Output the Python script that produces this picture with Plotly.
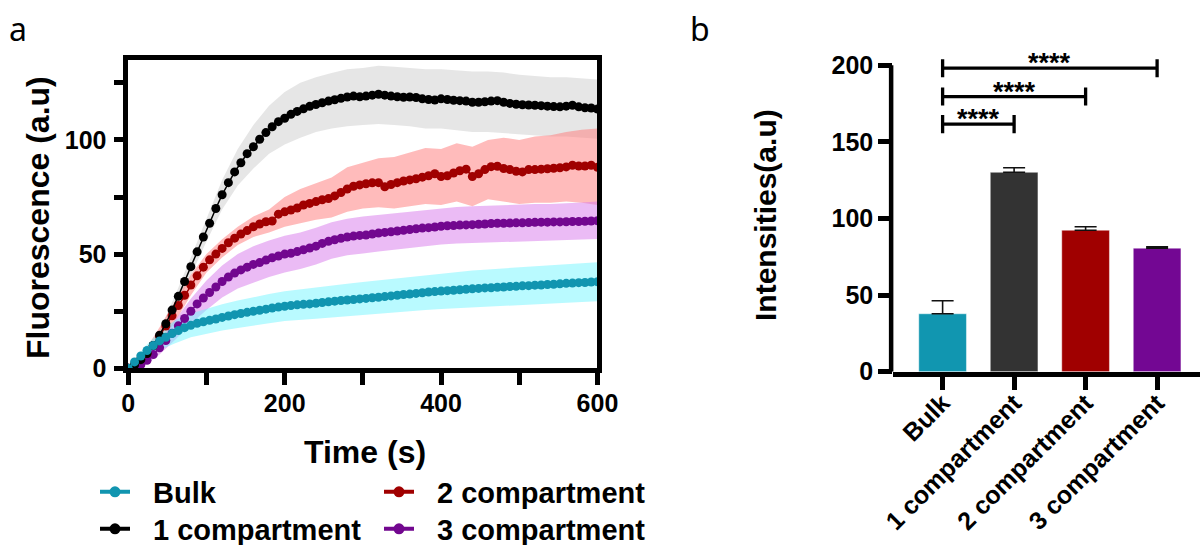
import plotly.graph_objects as go

# ---------------- Panel a data: fluorescence time course ----------------
time_s = list(range(0, 601, 8))

bulk_mean = [0, 2.8, 5.4, 7.8, 10, 12, 13.6, 15.2, 16.5, 17.8,
             18.8, 19.7, 20.4, 21, 21.6, 22.3, 22.9, 23.5, 24, 24.5,
             25, 25.4, 25.9, 26.4, 26.8, 27.2, 27.5, 27.8, 28, 28.2,
             28.5, 28.8, 29.1, 29.4, 29.7, 29.9, 30.1, 30.4, 30.6, 30.9,
             31.1, 31.4, 31.7, 32, 32.3, 32.5, 32.8, 33.1, 33.4, 33.6,
             33.8, 34, 34.2, 34.4, 34.6, 34.8, 35, 35.2, 35.3, 35.5,
             35.6, 35.8, 35.9, 36.1, 36.2, 36.4, 36.5, 36.7, 36.8, 37,
             37.2, 37.3, 37.5, 37.6, 37.8, 37.9]

one_comp_mean = [0, 1.5, 3.8, 6.5, 10, 14.5, 19.5, 25.5, 31.5, 38,
                 44.5, 51, 57.5, 63.5, 70, 76, 81.3, 86, 90, 94,
                 97, 100.3, 103.2, 105.8, 108, 109.5, 111.2, 112.5, 113.6, 114.7,
                 115.5, 116.3, 117, 117.6, 118.2, 118.8, 119.2, 118.9, 119.2, 119.6,
                 120, 119.6, 119.2, 118.9, 118.7, 118.8, 118.6, 118, 117.7, 117.5,
                 118, 117.7, 117.4, 117.2, 117, 116.5, 116.5, 116.7, 117, 117.2,
                 116.5, 116, 115.6, 115.4, 115.3, 115.2, 115, 114.8, 114.6, 114.5,
                 114.8, 115.2, 114.5, 114.1, 114, 113.5]

two_comp_mean = [0, 1.8, 4, 6.5, 10, 14, 18.5, 23, 27.5, 32,
                 36.5, 40.5, 44.3, 47.5, 50, 52.5, 55, 57, 58.8, 60.3,
                 62, 63.2, 64.2, 64.5, 67.5, 68.5, 69.3, 70.2, 71.5, 72.2,
                 73, 73.8, 74.3, 75.5, 77, 78.5, 79.7, 80.3, 80.8, 81.2,
                 81.3, 79.5, 80.5, 81.3, 82, 82.5, 83, 83.7, 84.3, 85.2,
                 84, 84.3, 85.5, 86.5, 87.2, 84, 85.2, 87, 88.3, 88.5,
                 87.5, 87, 86.3, 86, 87, 87, 87.2, 87.4, 87.6, 87.8,
                 88.2, 88.9, 88.6, 88.6, 88.9, 88]

three_comp_mean = [0, 0.3, 1.5, 3.5, 6, 9, 12.2, 15.4, 18.6, 21.8,
                   25, 28.2, 30.8, 33.2, 35.6, 38, 40, 41.7, 43.1, 44.3,
                   45.5, 46.3, 47.4, 48.4, 49.2, 50, 50.4, 51.1, 51.9, 52.7,
                   53.5, 54.7, 55.6, 56.3, 56.9, 57.5, 57.9, 58.2, 58.4, 58.8,
                   59.2, 59.5, 59.8, 60.1, 60.4, 60.8, 61.1, 61.4, 61.6, 61.9,
                   62.2, 62.4, 62.5, 62.7, 62.8, 62.9, 63.1, 63.2, 63.4, 63.5,
                   63.5, 63.6, 63.7, 63.7, 63.8, 63.9, 64, 64, 64.1, 64.1,
                   64.2, 64.3, 64.3, 64.4, 64.5, 64.6]

# SD envelopes (upper / lower edges of shaded areas)
band_time = list(range(0, 601, 20))

bulk_upper = [0, 9, 16, 21, 24, 26.2, 28.1, 29.7, 31.2, 32.5, 33.7, 34.6, 35.3, 36.2, 37, 37.8,
              38.5, 39.3, 40.1, 40.9, 41.6, 42.2, 42.8, 43.3, 43.8, 44.3, 44.7, 45.2, 45.7, 46, 46.4]
bulk_lower = [0, 4.1, 8, 11, 13.6, 15.2, 16.5, 17.7, 18.8, 19.7, 20.7, 21.2, 21.7, 22.2, 22.8, 23.2,
              23.7, 24.3, 24.9, 25.5, 26, 26.4, 26.8, 27.1, 27.4, 27.7, 28.1, 28.4, 28.7, 29, 29.4]

one_comp_upper = [0, 6, 16.5, 32, 48.5, 65.5, 82.5, 96, 106.5, 115, 121, 125, 127.5, 129.3, 131, 131.5,
                  132.5, 132, 131.5, 131, 131, 130.5, 130, 130, 129.5, 128.5, 128, 127.5, 127.5, 127, 126.5]
one_comp_lower = [0, 4, 12.5, 26, 40.5, 55.5, 69.5, 80, 87.5, 94, 98, 101, 103.5, 105, 106, 106.5,
                  107, 106.5, 106, 105, 105, 104.3, 103.5, 103.5, 103.2, 102.5, 102, 101.5, 101.5, 101, 100.5]

two_comp_upper = [0, 7, 18, 29.5, 41, 50, 56.5, 62, 66.5, 69.5, 75, 78.5, 81, 83.5, 88, 90,
                  92, 92.5, 94.5, 96.5, 96, 98.5, 97, 100, 101, 100, 101.5, 102, 103.5, 104.5, 105]
two_comp_lower = [0, 3, 10, 20.5, 32, 42, 48.5, 54, 57.5, 59.5, 62, 63.5, 65, 66, 68.5, 70,
                  70.5, 70, 71, 72, 71.5, 73, 71, 74, 73, 72, 72.5, 72.5, 73, 72.5, 71.5]

three_comp_upper = [0, 4, 12, 21.5, 30.5, 38.5, 45, 50, 53.5, 56, 58, 59.5, 61.5, 64, 65.5, 66.5,
                    67.2, 68, 68.8, 69.5, 70.2, 70.6, 71, 71.3, 71.5, 71.7, 71.9, 72, 72.2, 72.6, 73]
three_comp_lower = [0, 1, 6, 12.5, 19.5, 25.5, 31, 35, 37.5, 40, 42, 43.5, 45.5, 48, 49.5, 50.3,
                    51.2, 52, 52.8, 53.5, 54.2, 54.6, 54.9, 55.3, 55.5, 55.7, 55.9, 56, 56.2, 56.4, 56.6]

x_tick_vals_a = [0, 100, 200, 300, 400, 500, 600]
x_tick_text_a = ["0", "", "200", "", "400", "", "600"]
y_tick_vals_a = [0, 25, 50, 75, 100, 125]
y_tick_text_a = ["0", "", "50", "", "100", ""]

# ---------------- Panel b data: intensities ----------------
bar_categories = ["Bulk", "1 compartment", "2 compartment", "3 compartment"]
bar_means = [37.8, 130.1, 92.3, 80.6]
bar_errors = [8.5, 3.0, 2.3, 0.8]
y_tick_vals_b = [0, 50, 100, 150, 200]

bracket_pairs = [("Bulk", "1 compartment"), ("Bulk", "2 compartment"), ("Bulk", "3 compartment")]
bracket_levels = [161.5, 179.5, 198]
bracket_labels = ["****", "****", "****"]

# ---------------- styling ----------------
FONT = "Liberation Sans, Arial, sans-serif"
series = [
    # name, mean, upper, lower, line colour, band colour
    ("3 compartment", three_comp_mean, three_comp_upper, three_comp_lower, "#72078f", "rgba(215,120,235,0.5)"),
    ("2 compartment", two_comp_mean, two_comp_upper, two_comp_lower, "#a00000", "rgba(255,120,120,0.5)"),
    ("1 compartment", one_comp_mean, one_comp_upper, one_comp_lower, "#000000", "rgba(205,205,205,0.5)"),
    ("Bulk", bulk_mean, bulk_upper, bulk_lower, "#1195b0", "rgba(115,245,255,0.5)"),
]
bar_colors = ["#1196b0", "#333333", "#a00000", "#730793"]

# legend slots: name -> (legend id, left x px, centre y px)
legend_slots = {
    "Bulk": ("legend", 77, 492),
    "2 compartment": ("legend2", 361, 492),
    "1 compartment": ("legend3", 77, 529),
    "3 compartment": ("legend4", 361, 529),
}

fig = go.Figure()

# shaded SD bands (grey first, cyan last)
for name, mean, up, lo, lc, bc in [series[2], series[1], series[0], series[3]]:
    fig.add_trace(go.Scatter(
        x=band_time + band_time[::-1], y=up + lo[::-1],
        fill="toself", fillcolor=bc, line=dict(width=0), mode="lines",
        hoverinfo="skip", showlegend=False, xaxis="x", yaxis="y"))

# mean curves
for name, mean, up, lo, lc, bc in series:
    fig.add_trace(go.Scatter(
        x=time_s, y=mean, mode="lines+markers", name=name,
        line=dict(color=lc, width=1.5), marker=dict(color=lc, size=9),
        showlegend=False, cliponaxis=False, xaxis="x", yaxis="y"))

# legend entries (2 x 2 grid)
legend_layouts = {}
for name in ["Bulk", "1 compartment", "2 compartment", "3 compartment"]:
    s = [q for q in series if q[0] == name][0]
    lid, lx, ly = legend_slots[name]
    fig.add_trace(go.Scatter(
        x=[None], y=[None], mode="lines+markers", name=name, legend=lid,
        line=dict(color=s[4], width=4, dash="0px,18px,30px,300px"),
        marker=dict(color=s[4], size=11), xaxis="x", yaxis="y"))
    legend_layouts[lid] = dict(
        x=lx / 1200, xanchor="left", y=1 - ly / 545, yanchor="middle",
        font=dict(family=FONT, size=29, color="black", weight="bold"),
        itemwidth=66, bgcolor="rgba(0,0,0,0)", tracegroupgap=0)

# bars
bar_pos = list(range(len(bar_categories)))
fig.add_trace(go.Bar(
    x=bar_pos, y=bar_means, width=0.667,
    marker=dict(color=bar_colors, line=dict(color="rgba(255,255,255,0.45)", width=1)),
    error_y=dict(type="data", array=bar_errors, arrayminus=[0] * len(bar_errors),
                 symmetric=False, color="#111111", thickness=1.6, width=11),
    showlegend=False, xaxis="x2", yaxis="y2"))

# significance brackets
CAP = 5.9
for (a, b), lvl, lab in zip(bracket_pairs, bracket_levels, bracket_labels):
    pa, pb = bar_categories.index(a), bar_categories.index(b)
    fig.add_trace(go.Scatter(
        x=[pa, pb, None, pa, pa, None, pb, pb],
        y=[lvl, lvl, None, lvl - CAP, lvl + CAP, None, lvl - CAP, lvl + CAP],
        mode="lines", line=dict(color="black", width=3.3),
        hoverinfo="skip", showlegend=False, xaxis="x2", yaxis="y2"))
    fig.add_annotation(x=(pa + pb) / 2, y=lvl, xref="x2", yref="y2", text=lab,
                       showarrow=False, xanchor="center", yanchor="bottom", yshift=-12,
                       font=dict(family=FONT, size=27, color="black", weight="bold"))

tickfont = dict(family=FONT, size=25, color="black", weight="bold")
axis_common = dict(showgrid=False, zeroline=False, showline=True, linecolor="black",
                   linewidth=4.5, ticks="outside", tickcolor="black", tickwidth=4.5,
                   tickfont=tickfont, automargin=False)

fig.update_layout(
    template="none",
    width=1200, height=545, margin=dict(l=0, r=0, t=0, b=0, pad=0, autoexpand=False),
    paper_bgcolor="white", plot_bgcolor="white",
    xaxis=dict(domain=[0.1069, 0.4979], range=[0, 600], mirror=True, ticklen=12,
               tickvals=x_tick_vals_a, ticktext=x_tick_text_a, ticklabelstandoff=-3,
               **axis_common),
    yaxis=dict(domain=[0.3242, 0.8899], range=[0, 135], mirror=True, ticklen=10,
               tickvals=y_tick_vals_a, ticktext=y_tick_text_a, ticklabelstandoff=2,
               **axis_common),
    xaxis2=dict(domain=[0.7444, 1.0], range=[-0.69, 3.6], ticklen=14, anchor="y2",
                tickvals=bar_pos, ticktext=bar_categories, tickangle=-45,
                ticklabelstandoff=-12, **axis_common),
    yaxis2=dict(domain=[0.318, 0.9086], range=[0, 210], ticklen=14, anchor="x2",
                tickvals=y_tick_vals_b,
                **{**axis_common, "showline": False}),
    shapes=[dict(type="line", xref="x2 domain", yref="y2", x0=-0.007, x1=-0.007, y0=0, y1=200,
                 line=dict(color="black", width=4.5))],
    **legend_layouts,
)

# axis titles and panel labels
def note(x, y, text, size, angle=0, family=FONT, weight="bold"):
    fig.add_annotation(x=x / 1200, y=1 - y / 545, xref="paper", yref="paper", text=text,
                       textangle=angle, showarrow=False, xanchor="center", yanchor="middle",
                       font=dict(family=family, size=size, color="black", weight=weight))

note(365, 452, "Time (s)", 32)
note(38, 218, "Fluorescence (a.u)", 32, angle=-90)
note(765, 215, "Intensities(a.u)", 30, angle=-90)
note(18, 28, "a", 32, family="Noto Sans", weight="normal")
note(700, 28, "b", 32, family="Noto Sans", weight="normal")

fig.write_html("out.html", config={"displayModeBar": False},
               post_script="document.body.style.margin='0px';")
